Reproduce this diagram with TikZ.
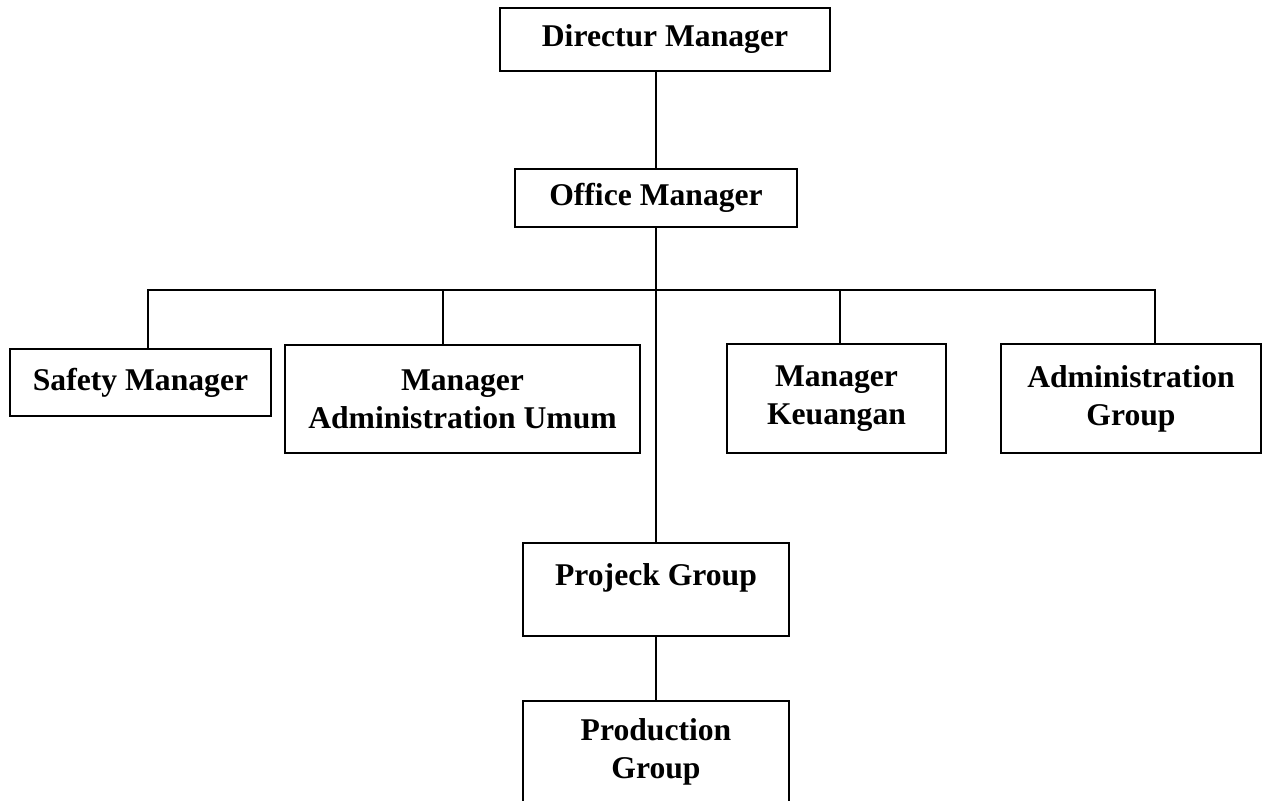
\documentclass[tikz,border=0pt]{standalone}
\usepackage{fontspec}
\setmainfont{Liberation Serif}
\begin{document}
\begin{tikzpicture}[
  unit/.style={rectangle, draw, line width=1.1pt, inner sep=0pt, align=center,
    font=\fontsize{18}{21.6}\selectfont\bfseries},
  link/.style={line width=1.1pt}
]
\useasboundingbox (0,0) rectangle (25.4,-16.02);

% Top management
\node[unit, minimum width=6.6cm, minimum height=1.26cm] (dir) at (13.30,-0.79) {Directur Manager};
\node[unit, minimum width=5.64cm, minimum height=1.16cm] (om) at (13.12,-3.96) {Office Manager};

% Managers under the office
\node[unit, minimum width=5.22cm, minimum height=1.34cm] (safety) at (2.81,-7.65) {Safety Manager};
\node[unit, minimum width=7.1cm, minimum height=2.16cm] (mau) at (9.25,-7.98) {Manager\\Administration Umum};
\node[unit, minimum width=4.38cm, minimum height=2.18cm] (keu) at (16.73,-7.97) {Manager\\Keuangan};
\node[unit, minimum width=5.2cm, minimum height=2.18cm] (adg) at (22.62,-7.97) {Administration\\Group};

% Project line
\node[unit, minimum width=5.32cm, minimum height=1.86cm, text depth=0.58cm] (pg) at (13.12,-11.79) {Projeck Group};
\node[unit, minimum width=5.32cm, minimum height=2.04cm] (prod) at (13.12,-15.04) {Production\\Group};

% Connections
\coordinate (bus) at (13.12,-5.8);
\draw[link] (om.north) -- (om.north |- dir.south);
\draw[link] (om.south) -- (pg.north);
\draw[link] ([xshift=0.15cm]safety.north) |- (bus) -| ([xshift=0.48cm]adg.north);
\draw[link] ([xshift=-0.39cm]mau.north) -- ([xshift=-0.39cm]mau.north |- bus);
\draw[link] ([xshift=0.07cm]keu.north) -- ([xshift=0.07cm]keu.north |- bus);
\draw[link] (pg.south) -- (prod.north);
\end{tikzpicture}
\end{document}
